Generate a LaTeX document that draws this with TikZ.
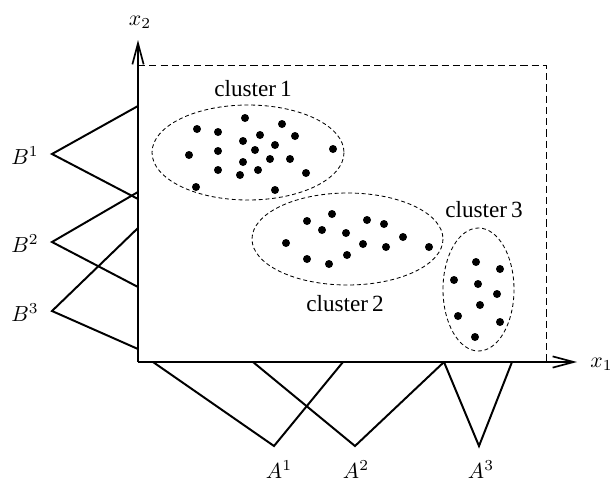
\documentclass[tikz,border=0pt]{standalone}
\usepackage{amsmath}
\usepackage{fontspec}
\newfontfamily\clusterfont{Liberation Serif}
\usetikzlibrary{arrows.meta}

\begin{document}
\begin{tikzpicture}[x=0.025cm,y=-0.025cm,
  axis/.style={line width=1.4pt,-{Straight Barb[length=15pt,width=8pt,line width=1.2pt]}},
  memb/.style={line width=1.4pt,line join=miter},
  domainbox/.style={line width=0.6pt,dash pattern=on 5pt off 3pt},
  clusterline/.style={line width=0.6pt,dash pattern=on 2.8pt off 2pt},
  clusterlabel/.style={font=\clusterfont\fontsize{16.5}{18}\selectfont},
  setlabel/.style={scale=1.55}]
\useasboundingbox (0,0) rectangle (613,482);
% axes
\coordinate (o) at (138,362);
\coordinate (x1end) at (577,362);
\coordinate (x2end) at (138,40);
\draw[axis] (o) -- (x2end);
\draw[axis] (o) -- (x1end);
\node[setlabel] (x2lab) at (140,22) {$x_2$};
\node[setlabel,anchor=west,inner sep=0pt] (x1lab) at (590,364) {$x_1$};
\draw[domainbox] (138,65) -- (546,65) -- (546,362);
% fuzzy sets on x2
\coordinate (b1) at (52,154);
\coordinate (b2) at (52,242);
\coordinate (b3) at (52,311);
\draw[memb] (138,106) -- (b1) -- (138,199);
\draw[memb] (138,192) -- (b2) -- (138,287);
\draw[memb] (138,228) -- (b3) -- (138,349);
\node[setlabel] (lb1) at (25,156) {$B^1$};
\node[setlabel] (lb2) at (25,244) {$B^2$};
\node[setlabel] (lb3) at (25,313) {$B^3$};
% fuzzy sets on x1
\coordinate (a1) at (274,446);
\coordinate (a2) at (355,446);
\coordinate (a3) at (479,446);
\draw[memb] (153,362) -- (a1) -- (343,362);
\draw[memb] (253,362) -- (a2) -- (444,362);
\draw[memb] (444,362) -- (a3) -- (512,362);
\node[setlabel] (la1) at (279,470) {$A^1$};
\node[setlabel] (la2) at (356,470) {$A^2$};
\node[setlabel] (la3) at (481,470) {$A^3$};
% clusters
\draw[clusterline] (248,152.5) ellipse [x radius=96, y radius=47.5];
\draw[clusterline] (347.5,239) ellipse [x radius=95.5, y radius=46];
\draw[clusterline] (478.5,289.5) ellipse [x radius=35.5, y radius=61.5];
\node[clusterlabel] (c1lab) at (253,89) {cluster\,1};
\node[clusterlabel] (c2lab) at (345,304) {cluster\,2};
\node[clusterlabel] (c3lab) at (484,210) {cluster\,3};
\foreach \px/\py in {245/118,197/129,218/132,282/124,260/135,295/136,243/141,
  275/145,189/155,218/151,255/150,333/149,243/162,270/159,290/159,218/170,
  240/175,258/170,306/173,196/187,275/190}
  \fill (\px,\py) circle (4);
\foreach \px/\py in {332/214,307/221,367/220,384/224,322/230,346/233,403/237,
  286/243,363/244,386/247,429/247,307/259,347/255,329/264}
  \fill (\px,\py) circle (4);
\foreach \px/\py in {476/262,500/269,454/280,478/284,497/294,480/305,458/316,
  500/322,475/337}
  \fill (\px,\py) circle (4);
\end{tikzpicture}
\end{document}
